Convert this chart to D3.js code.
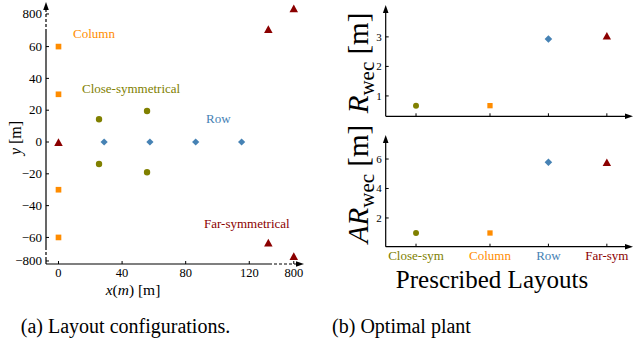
<!DOCTYPE html>
<html><head><meta charset="utf-8">
<script src="https://cdn.jsdelivr.net/npm/d3@7"></script>
<style>
body{margin:0;background:#fff;}
svg text{font-family:"Liberation Serif","DejaVu Serif",serif;}
</style></head>
<body><svg id="c" width="633" height="347"></svg>
<script>
// ---------- data ----------
// Panel (a): layout coordinates (plot units; far points sit in the broken-axis region)
const columnX = [0, 0, 0, 0];
const columnY = [60, 30, -30, -60];
const closeX = [25.5, 25.5, 55.7, 55.7];
const closeY = [14.3, -13.8, 19.5, -19.0];
const rowX = [28.7, 57.5, 86.3, 115.2];
const rowY = [0, 0, 0, 0];
const farX = [0, 132, 148, 132, 148];
const farY = [0, 71, 84, -63.3, -71.7];
const xTickVals = [0, 40, 80, 120, 148];
const xTickLabels = ["0", "40", "80", "120", "800"];
const yTickVals = [-74.8, -60, -40, -20, 0, 20, 40, 60, 80.5];
const yTickLabels = ["\u2212800", "\u221260", "\u221240", "\u221220", "0", "20", "40", "60", "800"];

// Panel (b): optimal plant
const layouts = ["Close-sym", "Column", "Row", "Far-sym"];
const layoutPos = [1, 2, 2.79, 3.58];
const rwec = [0.67, 0.67, 2.93, 3.04];
const arwec = [0.98, 0.98, 5.78, 5.78];
const rTicks = [1, 2, 3];
const arTicks = [2, 4, 6];

const colors = {close: "#808000", column: "#ff8c00", row: "#4682b4", far: "#8b0000"};
const layoutColors = [colors.close, colors.column, colors.row, colors.far];

// ---------- helpers ----------
const SERIF = "'Liberation Serif', 'DejaVu Serif', serif";
const svg = d3.select("#c");
const tri = {draw(ctx, size){ const h = Math.sqrt(size)/2; ctx.moveTo(0,-h); ctx.lineTo(h*1.1,h); ctx.lineTo(-h*1.1,h); ctx.closePath(); }};
const diamond = {draw(ctx, size){ const h = Math.sqrt(size)/2; ctx.moveTo(0,-h); ctx.lineTo(h,0); ctx.lineTo(0,h); ctx.lineTo(-h,0); ctx.closePath(); }};
const shapes = {close: d3.symbolCircle, column: d3.symbolSquare, row: diamond, far: tri};

function arrowHead(g, x, y, dir){
  const p = dir === "up" ? [[x,y],[x-2.8,y+8],[x+2.8,y+8]] : [[x,y],[x-8,y-2.8],[x-8,y+2.8]];
  g.append("path").attr("d", d3.line()(p) + "Z").attr("fill", "#000");
}

// ---------- panel (a) ----------
const xa = d3.scaleLinear().domain([-7.86, 153.8]).range([46, 303]);
const ya = d3.scaleLinear().domain([-76.7, 87.4]).range([264, 3]);
const ga = svg.append("g").attr("font-family", SERIF);

const ax = ga.append("g").attr("stroke", "#000").attr("stroke-width", 1.2);
ax.append("line").attr("x1", 46).attr("x2", 269).attr("y1", 264).attr("y2", 264);
ax.append("line").attr("x1", 269).attr("x2", 298).attr("y1", 264).attr("y2", 264).attr("stroke-dasharray", "3,2");
ax.append("line").attr("x1", 46).attr("x2", 46).attr("y1", 264).attr("y2", 260);
ax.append("line").attr("x1", 46).attr("x2", 46).attr("y1", 260).attr("y2", 247).attr("stroke-dasharray", "3,2");
ax.append("line").attr("x1", 46).attr("x2", 46).attr("y1", 247).attr("y2", 32);
ax.append("line").attr("x1", 46).attr("x2", 46).attr("y1", 32).attr("y2", 8).attr("stroke-dasharray", "3,2");
arrowHead(ga, 304, 264, "right");
arrowHead(ga, 46, 2, "up");

const xt = ga.append("g").selectAll("g").data(xTickVals).join("g").attr("transform", d => `translate(${xa(d)},264)`);
xt.append("line").attr("y1", 0).attr("y2", -3).attr("stroke", "#000");
xt.append("text").attr("y", 13).attr("text-anchor", "middle").attr("font-size", 12.5).text((d,i) => xTickLabels[i]);
const yt = ga.append("g").selectAll("g").data(yTickVals).join("g").attr("transform", d => `translate(46,${ya(d)})`);
yt.append("line").attr("x1", 0).attr("x2", 3).attr("stroke", "#000");
yt.append("text").attr("x", -4).attr("dy", "0.33em").attr("text-anchor", "end").attr("font-size", 13).text((d,i) => yTickLabels[i]);

const xl = ga.append("text").attr("x", 133).attr("y", 295).attr("text-anchor", "middle").attr("font-size", 15.5);
xl.append("tspan").attr("font-style", "italic").text("x");
xl.append("tspan").text("(");
xl.append("tspan").attr("font-style", "italic").text("m");
xl.append("tspan").text(") [m]");
const yl = ga.append("text").attr("transform", "translate(21,138) rotate(-90)").attr("text-anchor", "middle").attr("font-size", 16);
yl.append("tspan").attr("font-style", "italic").text("y");
yl.append("tspan").text(" [m]");

function drawSeries(g, xs, ys, key, sx, sy, size){
  g.append("g").selectAll("path").data(xs.map((x,i) => [x, ys[i]])).join("path")
    .attr("transform", d => `translate(${sx(d[0])},${sy(d[1])})`)
    .attr("d", d3.symbol(shapes[key], size))
    .attr("fill", colors[key]);
}
drawSeries(ga, columnX, columnY, "column", xa, ya, 32);
drawSeries(ga, closeX, closeY, "close", xa, ya, 32);
drawSeries(ga, rowX, rowY, "row", xa, ya, 52);
drawSeries(ga, farX, farY, "far", xa, ya, 60);

const ann = [["Column", 73, 38, colors.column], ["Close-symmetrical", 82, 93, colors.close], ["Row", 206, 123, colors.row], ["Far-symmetrical", 204, 228, colors.far]];
ga.append("g").selectAll("text").data(ann).join("text")
  .attr("x", d => d[1]).attr("y", d => d[2]).attr("font-size", 13).attr("fill", d => d[3]).text(d => d[0]);

// ---------- panel (b) ----------
const gb = svg.append("g").attr("font-family", SERIF);
const xb = d3.scaleLinear().domain([0.59, 3.92]).range([385.7, 632]);
function subplot(yDomain, yRange, vals, ticks){
  const y = d3.scaleLinear().domain(yDomain).range(yRange);
  const g = gb.append("g");
  const y0 = yRange[0], y1 = yRange[1];
  g.append("line").attr("x1", 385.7).attr("x2", 626).attr("y1", y0).attr("y2", y0).attr("stroke", "#000").attr("stroke-width", 1.2);
  g.append("line").attr("x1", 385.7).attr("x2", 385.7).attr("y1", y0).attr("y2", y1 + 4).attr("stroke", "#000").attr("stroke-width", 1.2);
  arrowHead(g, 633, y0, "right");
  arrowHead(g, 385.7, y1, "up");
  g.append("g").selectAll("line").data(layoutPos).join("line")
    .attr("x1", d => xb(d)).attr("x2", d => xb(d)).attr("y1", y0).attr("y2", y0 - 3).attr("stroke", "#000");
  const t = g.append("g").selectAll("g").data(ticks).join("g").attr("transform", d => `translate(385.7,${y(d)})`);
  t.append("line").attr("x1", 0).attr("x2", 3).attr("stroke", "#000");
  t.append("text").attr("x", -4).attr("dy", "0.33em").attr("text-anchor", "end").attr("font-size", 11).text(d => d);
  const keys = ["close", "column", "row", "far"];
  const sizes = [28, 28, 58, 58];
  g.append("g").selectAll("path").data(vals).join("path")
    .attr("transform", (d,i) => `translate(${xb(layoutPos[i])},${y(d)})`)
    .attr("d", (d,i) => d3.symbol(shapes[keys[i]], sizes[i])())
    .attr("fill", (d,i) => layoutColors[i]);
}
subplot([0.31, 4.08], [116.3, 5], rwec, rTicks);
subplot([0.05, 7.63], [246.7, 135], arwec, arTicks);

function ylab(cx, cy, italic){
  const t = gb.append("text").attr("transform", `translate(${cx},${cy}) rotate(-90)`).attr("text-anchor", "middle").attr("font-size", 29);
  t.append("tspan").attr("font-style", "italic").text(italic);
  t.append("tspan").attr("font-size", 21).attr("dy", 6).text("wec");
  t.append("tspan").attr("dy", -6).text(" [m]");
}
ylab(368, 63, "R");
ylab(368, 184, "AR");

gb.append("g").selectAll("text").data(layouts).join("text")
  .attr("x", (d,i) => xb(layoutPos[i])).attr("y", 260).attr("text-anchor", "middle")
  .attr("font-size", 13).attr("fill", (d,i) => layoutColors[i]).text(d => d);
gb.append("text").attr("x", 492).attr("y", 288).attr("text-anchor", "middle").attr("font-size", 25).text("Prescribed Layouts");

// captions
const gc = svg.append("g");
gc.append("text").attr("x", 125.5).attr("y", 333).attr("text-anchor", "middle")
  .attr("style", "font-family:'Liberation Serif',serif;font-size:20px").text("(a) Layout configurations.");
gc.append("text").attr("x", 401.5).attr("y", 333).attr("text-anchor", "middle")
  .attr("style", "font-family:'Liberation Serif',serif;font-size:20px").text("(b) Optimal plant");
</script></body></html>
